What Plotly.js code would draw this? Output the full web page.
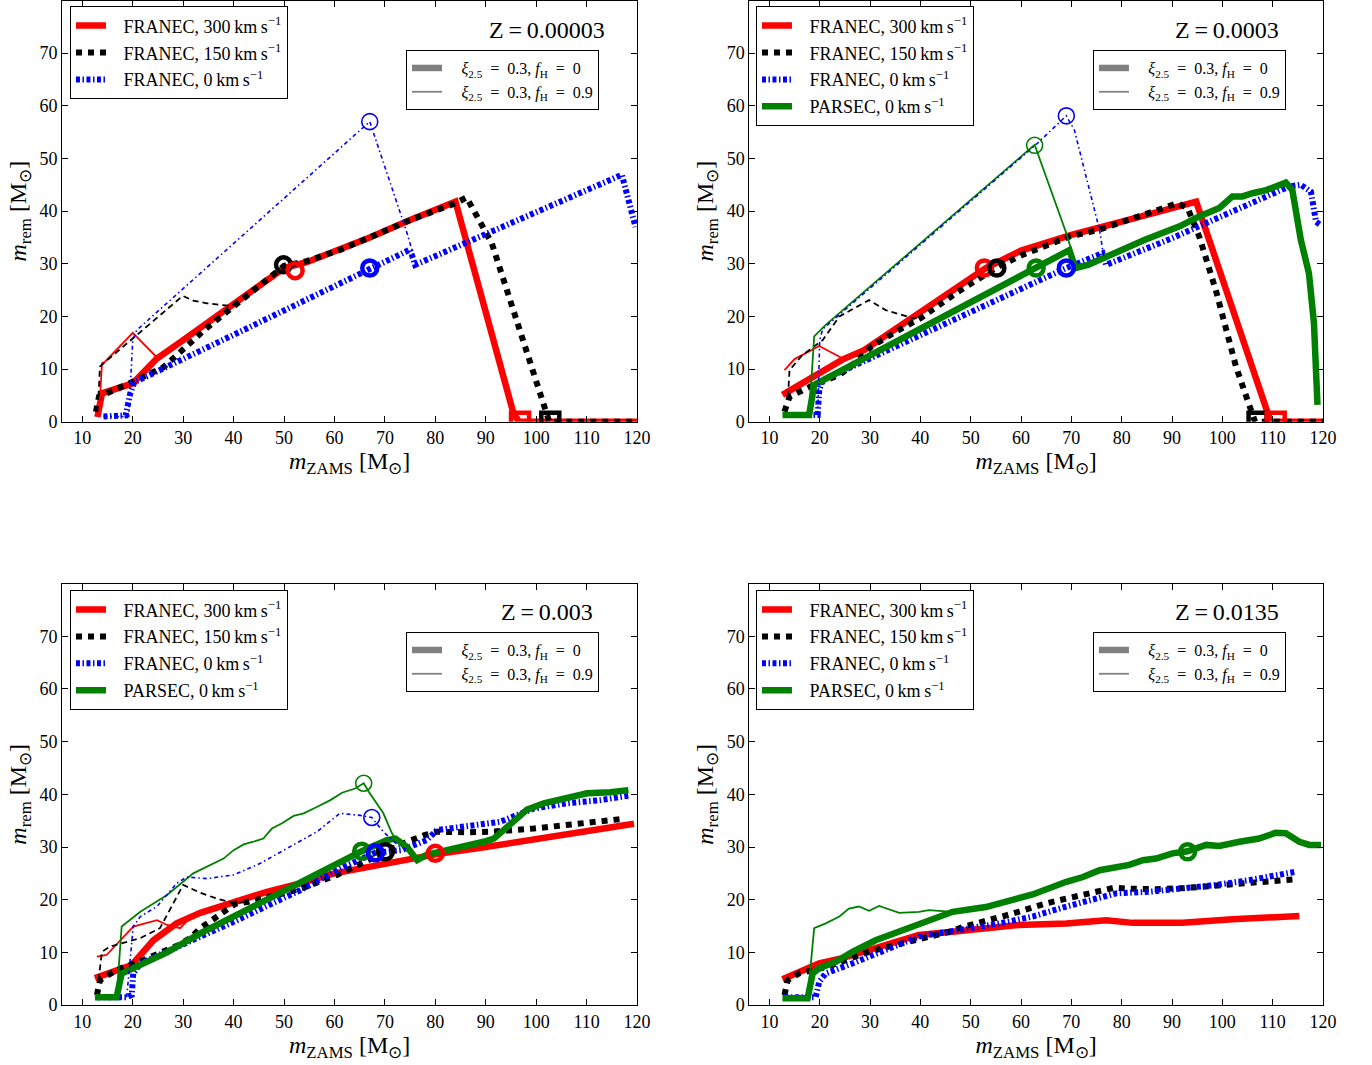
<!DOCTYPE html>
<html><head><meta charset="utf-8">
<script src="https://cdn.plot.ly/plotly-3.0.1.min.js"></script>
<style>html,body{margin:0;padding:0;background:#fff}</style>
</head><body><div id="chart" style="width:1372px;height:1065px"></div>
<script>
// ---------- Panel A : Z = 0.00003 ----------
const A_red_x = [13.0, 13.9, 20, 24.8, 30, 40, 50, 54.5, 61, 67, 75, 84, 95.5, 96.6, 120];
const A_red_y = [0.9, 5.4, 7.3, 12, 15.5, 22.2, 29.2, 30.3, 32.6, 35, 38.3, 41.8, 1.6, 0, 0];
const A_blk_x = [12.7, 13.3, 20, 26, 28, 34.4, 38.7, 42, 50, 54.5, 61, 67, 75, 84, 86.2, 91.2, 99.8, 101.8, 102.6, 120];
const A_blk_y = [1.9, 4.75, 7.6, 10.3, 12, 17.6, 20.9, 23.4, 29.6, 30.5, 32.6, 35, 38.3, 41.5, 42.6, 33.9, 7.9, 2.2, 0, 0];
const A_blu_x = [14.2, 18.6, 19.5, 20.3, 40, 67, 75, 76, 117, 119.7];
const A_blu_y = [1, 1.2, 5.4, 7.5, 16.5, 29.2, 32.7, 29.8, 46.9, 37];
const A_redT_x = [13.3, 13.9, 14.5, 20, 24.8];
const A_redT_y = [1, 11.1, 11.4, 16.9, 12.2];
const A_blkT_x = [13.2, 13.5, 29.9, 32, 34.7, 39.3, 41];
const A_blkT_y = [4.75, 10.5, 23.9, 23, 22.5, 22, 22.5];
const A_bluT_x = [14.2, 19.2, 20, 20.8, 67, 74.4, 76.2];
const A_bluT_y = [1, 1, 15.5, 17.4, 57, 35.8, 29.9];
const A_circ_x = [49.9, 52.2, 67]; const A_circ_y = [29.8, 28.7, 29.2];
const A_circ_c = ['black', 'red', 'blue'];
const A_circT_x = [67]; const A_circT_y = [57]; const A_circT_c = ['blue'];
const A_sq_x = [96.8, 102.8]; const A_sq_y = [0, 0]; const A_sq_c = ['red', 'black'];

// ---------- Panel B : Z = 0.0003 ----------
const B_red_x = [12.6, 16, 20, 24.5, 28.8, 40, 53, 60, 70, 80, 90, 94.8, 97.4, 108.7, 109.6, 120];
const B_red_y = [5.1, 7, 9, 11.8, 13.6, 20.8, 29.2, 32.5, 35.5, 38, 40.6, 41.8, 34.5, 2.2, 0, 0];
const B_blk_x = [13, 14, 18.8, 21.6, 23.9, 26.2, 28.2, 30.3, 35.1, 40.1, 47, 55, 60, 69.7, 75.3, 80.2, 85.5, 91.1, 93.1, 95.4, 98.7, 102.7, 105, 106.5, 120];
const B_blk_y = [1.9, 4.75, 7, 7.9, 8.9, 10.5, 12.4, 14.3, 17.1, 19.7, 24.4, 29.2, 31.6, 35.2, 36.4, 38, 39.6, 41.5, 40.6, 35.2, 25, 10.5, 4.1, 0, 0];
const B_blu_x = [13.3, 19.6, 19.9, 20.6, 69, 76.2, 76.9, 90.1, 113.3, 115.6, 117.6, 118.6, 119.3];
const B_blu_y = [1.3, 1.3, 6, 7.9, 29.2, 32, 29.8, 34.9, 44.7, 45, 43.7, 38, 37.5];
const B_grn_x = [12.6, 17.9, 18.9, 40, 60.9, 63, 69.6, 70.8, 73.3, 84.5, 91.5, 95.4, 99.4, 102, 104, 106, 108.7, 112.6, 113.9, 115.6, 117.2, 118.2, 118.9];
const B_grn_y = [1.3, 1.3, 7, 17.6, 28.2, 29.2, 32.6, 29.2, 29.8, 34.5, 37.1, 39, 40.6, 42.8, 42.8, 43.4, 44, 45.4, 44, 34.5, 28.2, 18.7, 3.2];
const B_redT_x = [13, 15, 19.9, 24.2];
const B_redT_y = [9.8, 11.9, 14.4, 12.2];
const B_blkT_x = [13.7, 14, 16.6, 20.6, 23.9, 29.8, 33.1, 38.4, 40.1];
const B_blkT_y = [4.75, 9.8, 12.7, 15.5, 20, 23.1, 21.2, 19.7, 19.7];
const B_grnT_x = [17.9, 18.9, 21.2, 62.7, 69, 70, 70.6];
const B_grnT_y = [1.3, 16.2, 18.4, 52.6, 35.8, 32.6, 29.5];
const B_bluT_x = [19.6, 20, 20.6, 62.7, 69, 70.6, 75.6, 76.4];
const B_bluT_y = [1.3, 15.5, 17.6, 52.4, 58.1, 55.4, 36.4, 31.5];
const B_circ_x = [52.7, 55.2, 63, 69]; const B_circ_y = [29.2, 29.2, 29.2, 29.2];
const B_circ_c = ['red', 'black', 'green', 'blue'];
const B_circT_x = [62.7, 69]; const B_circT_y = [52.5, 58.1]; const B_circT_c = ['green', 'blue'];
const B_sq_x = [107, 110.6]; const B_sq_y = [0, 0]; const B_sq_c = ['black', 'red'];

// ---------- Panel C : Z = 0.003 ----------
const C_red_x = [12.5, 19.8, 24.1, 28.7, 33.4, 40, 46.6, 53.2, 60, 70, 80, 90, 100, 110, 119.4];
const C_red_y = [5.1, 7.6, 12.3, 15.5, 17.5, 19.6, 21.5, 23.1, 25, 26.8, 28.6, 30, 31.4, 32.9, 34.4];
const C_blk_x = [12.9, 13.5, 16.2, 18.5, 21.3, 23.8, 26.4, 29.1, 31.4, 33.4, 35.7, 38, 40.3, 42.9, 45.9, 48.6, 51.2, 53.9, 57.2, 60.5, 63.8, 70.1, 74.4, 78, 80.3, 86.3, 91.2, 99.5, 107.4, 117.7];
const C_blk_y = [1.9, 4.7, 6.3, 7.3, 8.2, 9.2, 10.1, 11.4, 12.7, 14.6, 16.1, 17.7, 19.2, 19.6, 20.2, 20.9, 21.5, 22.3, 23.4, 24.7, 26.2, 29.1, 31, 32.3, 32.9, 32.8, 32.9, 33.5, 34.3, 35.4];
const C_blu_x = [12.9, 18.8, 19.8, 20.1, 21.5, 40, 53.2, 59.8, 61.8, 68.1, 73.2, 78.3, 80.3, 92.9, 99.5, 106.1, 112.7, 118.7];
const C_blu_y = [1.5, 1.5, 1.9, 6, 7.9, 15.8, 21.8, 25, 26.2, 28.9, 29.4, 31.3, 33.2, 34.8, 37.3, 38.3, 38.9, 39.8];
const C_grn_x = [12.5, 16.8, 17.8, 22, 26.8, 33.4, 40, 46.6, 53.2, 59.8, 65.4, 70.4, 72.1, 74.4, 76.4, 78.3, 84.3, 89.6, 91.6, 94.9, 98.2, 101.5, 106.1, 110.1, 114.7, 118.3];
const C_grn_y = [1.5, 1.5, 6, 7.8, 10, 13.6, 16.8, 20.2, 23.5, 26.5, 29.2, 31.3, 31.6, 30, 27.5, 28.5, 29.7, 31, 31.6, 34.5, 37.1, 38.3, 39.4, 40.2, 40.4, 40.8];
const C_redT_x = [12.9, 14.8, 20.1, 24.8, 26.8, 29.4, 31];
const C_redT_y = [9.2, 9.5, 14.9, 16.1, 15.2, 14.6, 16.2];
const C_blkT_x = [13.2, 13.9, 15.5, 21.5, 25.4, 29.4, 30, 33.4, 36.7, 40, 42];
const C_blkT_y = [4.7, 10.1, 11.1, 12.7, 14.6, 21.8, 22.8, 21.3, 20.2, 19.4, 19.5];
const C_grnT_x = [16.8, 17.8, 21.5, 26.8, 32, 38, 40, 42, 43.9, 45.9, 47.6, 49.6, 51.9, 53.9, 56.5, 59.2, 61.5, 64.1, 65.8, 66.8, 69.7, 71.4, 72.1];
const C_grnT_y = [1.5, 14.9, 17.7, 20.9, 25, 27.8, 29.4, 30.5, 31, 31.6, 33.5, 34.5, 35.9, 36.4, 37.6, 38.9, 40.3, 41.1, 42.1, 40.5, 36.4, 32.6, 31.6];
const C_bluT_x = [18.8, 20.1, 21.5, 24.8, 28.7, 30.7, 34.7, 40, 45.3, 49.9, 56.5, 61.1, 65.1, 67.4, 69.7, 73, 74.5];
const C_bluT_y = [1.5, 14.9, 16.8, 18.7, 23.1, 24.3, 24, 24.7, 26.9, 29.4, 32.9, 36.4, 36, 35.6, 32.9, 30, 29.6];
const C_circ_x = [65.4, 70.1, 68.1, 80]; const C_circ_y = [29.2, 29.1, 28.9, 28.8];
const C_circ_c = ['green', 'black', 'blue', 'red'];
const C_circT_x = [65.8, 67.4]; const C_circT_y = [42.1, 35.6]; const C_circT_c = ['green', 'blue'];

// ---------- Panel D : Z = 0.0135 ----------
const D_red_x = [12.6, 19.9, 24.5, 29.8, 34.5, 39.7, 46.4, 53, 59.6, 69, 76.9, 82.2, 92.1, 102, 115.3];
const D_red_y = [4.9, 7.9, 8.9, 10.4, 11.8, 13.3, 13.9, 14.6, 15.2, 15.5, 16.1, 15.6, 15.6, 16.3, 16.9];
const D_blk_x = [13, 13.6, 15.9, 18.6, 21.6, 24.2, 26.8, 29.5, 32.5, 35.1, 37.7, 40.4, 43, 45.7, 48.7, 51.3, 54, 56.6, 59.5, 62, 65, 67.6, 70.3, 72.9, 75.6, 78.6, 81.2, 86.8, 92.5, 98, 103.7, 109.3, 114.9];
const D_blk_y = [1.9, 4.7, 6, 6.6, 7.3, 8.2, 9.2, 10, 10.8, 11.4, 12, 12.7, 13.3, 13.9, 14.9, 15.5, 16.1, 16.9, 17.7, 18.5, 19.3, 19.9, 20.5, 21.2, 21.8, 22.3, 22.1, 22, 22.2, 22.6, 23, 23.4, 23.9];
const D_blu_x = [13, 19.2, 19.9, 21.2, 26.5, 33.1, 39.7, 55.7, 62.3, 69, 75.6, 78.9, 85.5, 92.1, 98.7, 105.3, 112, 114.6];
const D_blu_y = [1.5, 1.5, 4.4, 6, 7.9, 10.4, 13, 15.5, 16.8, 18.7, 20.5, 21.2, 21.5, 22.1, 22.8, 23.7, 24.7, 25.3];
const D_grn_x = [12.6, 17.6, 18.6, 19.9, 23.2, 26.5, 31.1, 36.4, 41.7, 46.4, 53, 59.6, 62.3, 69, 72.3, 75.6, 78.6, 81.5, 84.2, 86.8, 90.1, 93.1, 96.8, 99.4, 103.4, 107.3, 110.6, 112.6, 115.3, 117.3, 119.6];
const D_grn_y = [1.3, 1.3, 6, 7, 8.2, 10.1, 12.3, 14.2, 16.3, 17.7, 18.6, 20.3, 21, 23.4, 24.3, 25.6, 26.2, 26.6, 27.5, 27.8, 28.8, 29.2, 30.4, 30.2, 31, 31.6, 32.7, 32.6, 31, 30.4, 30.4];
const D_grnT_x = [17.6, 18.9, 21.2, 23.9, 25.8, 27.8, 29.8, 31.8, 35.8, 39.7, 41.7, 46.4, 53, 56.5];
const D_grnT_y = [1.3, 14.6, 15.5, 16.8, 18.3, 18.7, 17.9, 18.8, 17.5, 17.7, 18, 17.7, 18.7, 19.4];
const D_circ_x = [93.1]; const D_circ_y = [29.1]; const D_circ_c = ['green'];

// ---------- labels ----------
const P1 = '\u2002\u2009';          // lead-in so text sits where the reference has it
const P2 = '\u2002\u2009\u2009';
const names = {
  red: P1 + 'FRANEC, 300\u2009km\u2009s<sup>\u22121</sup>',
  blk: P1 + 'FRANEC, 150\u2009km\u2009s<sup>\u22121</sup>',
  blu: P1 + 'FRANEC, 0\u2009km\u2009s<sup>\u22121</sup>',
  grn: P1 + 'PARSEC, 0\u2009km\u2009s<sup>\u22121</sup>'
};
const gray1 = P2 + '<i>\u03be</i><sub>2.5</sub>\u2002=\u20020.3, <i>f</i><sub>H</sub>\u2002=\u20020';
const gray2 = P2 + '<i>\u03be</i><sub>2.5</sub>\u2002=\u20020.3, <i>f</i><sub>H</sub>\u2002=\u20020.9';
const zLabels = ['Z\u2009=\u20090.00003', 'Z\u2009=\u20090.0003', 'Z\u2009=\u20090.003', 'Z\u2009=\u20090.0135'];

// ---------- styles ----------
const ST = {
  red:  {color: '#ff0000', width: 6.5, dash: 'solid'},
  blk:  {color: '#000000', width: 6, dash: '6px,6px'},
  blu:  {color: '#0000ff', width: 6, dash: '4px,2.5px,1.5px,2.5px'},
  grn:  {color: '#008000', width: 6.5, dash: 'solid'},
  redT: {color: '#ff0000', width: 1.8, dash: 'solid'},
  blkT: {color: '#000000', width: 1.8, dash: '6px,4px'},
  bluT: {color: '#0000ff', width: 1.6, dash: '4px,3px,1.5px,3px'},
  grnT: {color: '#008000', width: 1.8, dash: 'solid'}
};

const traces = [];
let gid = 0;
function line(ax, x, y, key, legend, name) {
  const s = ST[key];
  traces.push({
    type: 'scatter', mode: 'lines', x: x, y: y, xaxis: 'x' + ax.x, yaxis: 'y' + ax.y,
    line: {color: s.color, width: s.width, dash: s.dash},
    name: name || '', showlegend: !!name, legend: legend, legendgroup: 'g' + (gid++), hoverinfo: 'skip'
  });
}
function marks(ax, x, y, colors, symbol, size, lw) {
  traces.push({
    type: 'scatter', mode: 'markers', x: x, y: y, xaxis: 'x' + ax.x, yaxis: 'y' + ax.y,
    marker: {symbol: symbol, size: size, color: colors, line: {width: lw, color: colors}},
    showlegend: false, hoverinfo: 'skip'
  });
}
function grayLegend(ax, legend) {
  traces.push({type: 'scatter', mode: 'lines', x: [null], y: [null], xaxis: 'x' + ax.x, yaxis: 'y' + ax.y,
    line: {color: '#808080', width: 6.5}, name: gray1, legend: legend, legendgroup: 'g' + (gid++), showlegend: true});
  traces.push({type: 'scatter', mode: 'lines', x: [null], y: [null], xaxis: 'x' + ax.x, yaxis: 'y' + ax.y,
    line: {color: '#808080', width: 1.8}, name: gray2, legend: legend, legendgroup: 'g' + (gid++), showlegend: true});
}

// Panel A
let ax = {x: '', y: ''};
line(ax, A_red_x, A_red_y, 'red', 'legend', names.red);
line(ax, A_blk_x, A_blk_y, 'blk', 'legend', names.blk);
line(ax, A_blu_x, A_blu_y, 'blu', 'legend', names.blu);
line(ax, A_redT_x, A_redT_y, 'redT');
line(ax, A_blkT_x, A_blkT_y, 'blkT');
line(ax, A_bluT_x, A_bluT_y, 'bluT');
marks(ax, A_circ_x, A_circ_y, A_circ_c, 'circle-open', 15, 4.5);
marks(ax, A_circT_x, A_circT_y, A_circT_c, 'circle-open', 16, 1.6);
marks(ax, A_sq_x, A_sq_y, A_sq_c, 'square-open', 18, 4.5);
grayLegend(ax, 'legend2');

// Panel B
ax = {x: '2', y: '2'};
line(ax, B_red_x, B_red_y, 'red', 'legend3', names.red);
line(ax, B_blk_x, B_blk_y, 'blk', 'legend3', names.blk);
line(ax, B_blu_x, B_blu_y, 'blu', 'legend3', names.blu);
line(ax, B_grn_x, B_grn_y, 'grn', 'legend3', names.grn);
line(ax, B_redT_x, B_redT_y, 'redT');
line(ax, B_blkT_x, B_blkT_y, 'blkT');
line(ax, B_grnT_x, B_grnT_y, 'grnT');
line(ax, B_bluT_x, B_bluT_y, 'bluT');
marks(ax, B_circ_x, B_circ_y, B_circ_c, 'circle-open', 15, 4.5);
marks(ax, B_circT_x, B_circT_y, B_circT_c, 'circle-open', 16, 1.6);
marks(ax, B_sq_x, B_sq_y, B_sq_c, 'square-open', 18, 4.5);
grayLegend(ax, 'legend4');

// Panel C
ax = {x: '3', y: '3'};
line(ax, C_red_x, C_red_y, 'red', 'legend5', names.red);
line(ax, C_blk_x, C_blk_y, 'blk', 'legend5', names.blk);
line(ax, C_blu_x, C_blu_y, 'blu', 'legend5', names.blu);
line(ax, C_grn_x, C_grn_y, 'grn', 'legend5', names.grn);
line(ax, C_redT_x, C_redT_y, 'redT');
line(ax, C_blkT_x, C_blkT_y, 'blkT');
line(ax, C_grnT_x, C_grnT_y, 'grnT');
line(ax, C_bluT_x, C_bluT_y, 'bluT');
marks(ax, C_circ_x, C_circ_y, C_circ_c, 'circle-open', 15, 4.5);
marks(ax, C_circT_x, C_circT_y, C_circT_c, 'circle-open', 16, 1.6);
grayLegend(ax, 'legend6');

// Panel D
ax = {x: '4', y: '4'};
line(ax, D_red_x, D_red_y, 'red', 'legend7', names.red);
line(ax, D_blk_x, D_blk_y, 'blk', 'legend7', names.blk);
line(ax, D_blu_x, D_blu_y, 'blu', 'legend7', names.blu);
line(ax, D_grn_x, D_grn_y, 'grn', 'legend7', names.grn);
line(ax, D_grnT_x, D_grnT_y, 'grnT');
marks(ax, D_circ_x, D_circ_y, D_circ_c, 'circle-open', 15, 4.5);
grayLegend(ax, 'legend8');

// ---------- layout ----------
const FONT = '"Liberation Serif", "Times New Roman", serif';
const xTitle = '<i>m</i><sub>ZAMS</sub> [M<sub>\u2299</sub>]';
const yTitle = '<i>m</i><sub>rem</sub> [M<sub>\u2299</sub>]';
function xAxis(dom, anchor) {
  return {domain: dom, anchor: anchor, range: [6, 120], tickvals: [10,20,30,40,50,60,70,80,90,100,110,120],
    showline: true, mirror: 'ticks', linecolor: '#000', linewidth: 1, ticks: 'inside', ticklen: 6, tickcolor: '#000',
    showgrid: false, zeroline: false, tickfont: {family: FONT, size: 18, color: '#000'},
    title: {text: xTitle, font: {family: FONT, size: 24, color: '#000'}, standoff: 4}};
}
function yAxis(dom, anchor) {
  return {domain: dom, anchor: anchor, range: [0, 80], tickvals: [0,10,20,30,40,50,60,70],
    showline: true, mirror: 'ticks', linecolor: '#000', linewidth: 1, ticks: 'inside', ticklen: 6, tickcolor: '#000',
    showgrid: false, zeroline: false, tickfont: {family: FONT, size: 18, color: '#000'},
    title: {text: yTitle, font: {family: FONT, size: 24, color: '#000'}, standoff: 6}};
}
function leg(x, y, size, gap) {
  return {x: x, y: y, xanchor: 'left', yanchor: 'top', bgcolor: '#fff', bordercolor: '#000', borderwidth: 1,
    font: {family: FONT, size: size, color: '#000'}, traceorder: 'grouped', tracegroupgap: gap, itemwidth: 30};
}
const XL = [0.0453, 0.4643], XR = [0.5461, 0.9643];
const YT = [0.604, 0.9995], YB = [0.0563, 0.452];
const layout = {
  width: 1372, height: 1065, margin: {l: 0, r: 0, t: 0, b: 0},
  paper_bgcolor: '#fff', plot_bgcolor: '#fff', font: {family: FONT, color: '#000'},
  xaxis: xAxis(XL, 'y'), yaxis: yAxis(YT, 'x'),
  xaxis2: xAxis(XR, 'y2'), yaxis2: yAxis(YT, 'x2'),
  xaxis3: xAxis(XL, 'y3'), yaxis3: yAxis(YB, 'x3'),
  xaxis4: xAxis(XR, 'y4'), yaxis4: yAxis(YB, 'x4'),
  legend: leg(0.0510, 0.9940, 18, 0.5), legend2: leg(0.2959, 0.9530, 16, 0),
  legend3: leg(0.5510, 0.9940, 18, 0.5), legend4: leg(0.7966, 0.9530, 16, 0),
  legend5: leg(0.0510, 0.4457, 18, 0.5), legend6: leg(0.2959, 0.4065, 16, 0),
  legend7: leg(0.5510, 0.4457, 18, 0.5), legend8: leg(0.7966, 0.4065, 16, 0),
  annotations: [
    {text: zLabels[0], x: 0.3987, y: 0.9718},
    {text: zLabels[1], x: 0.8943, y: 0.9718},
    {text: zLabels[2], x: 0.3987, y: 0.4254},
    {text: zLabels[3], x: 0.8943, y: 0.4254}
  ].map(a => Object.assign(a, {xref: 'paper', yref: 'paper', xanchor: 'center', yanchor: 'middle', showarrow: false,
    font: {family: FONT, size: 24, color: '#000'}}))
};
Plotly.newPlot('chart', traces, layout, {displayModeBar: false, staticPlot: true});
</script></body></html>
